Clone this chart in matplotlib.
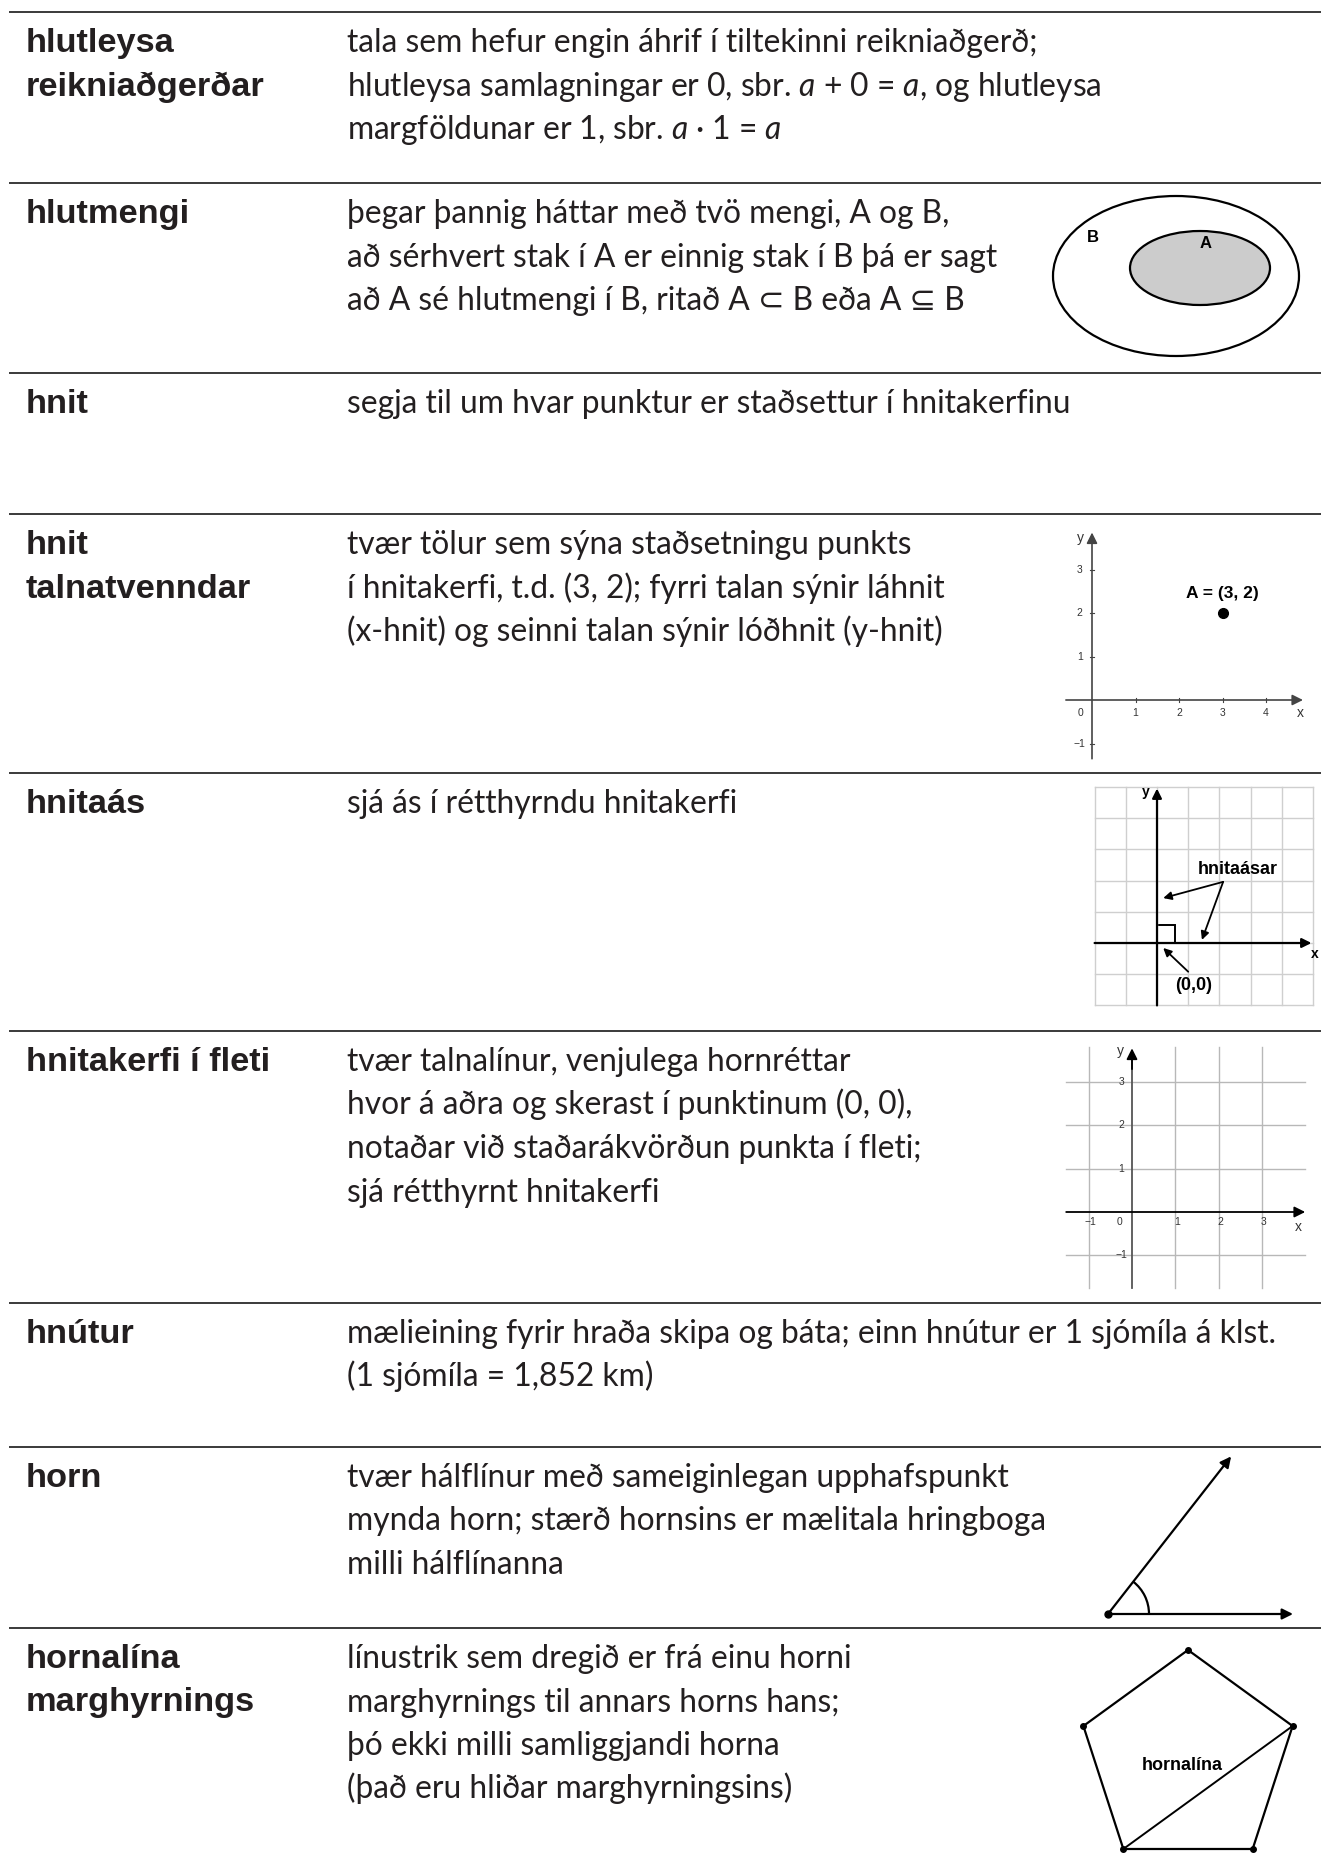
import numpy as np
import matplotlib
matplotlib.use('Agg')
import matplotlib.pyplot as plt
from matplotlib.patches import Ellipse, Arc, Rectangle, Polygon

plt.rcParams['mathtext.fontset'] = 'custom'
plt.rcParams['mathtext.rm'] = 'Lato'
plt.rcParams['mathtext.it'] = 'Lato:italic'

W, H, DPI = 1321, 1859, 100

# ---- glossary text ----
terms = [
    'hlutleysa\nreikniaðgerðar',
    'hlutmengi',
    'hnit',
    'hnit\ntalnatvenndar',
    'hnitaás',
    'hnitakerfi í fleti',
    'hnútur',
    'horn',
    'hornalína\nmarghyrnings',
]
definitions = [
    ['tala sem hefur engin áhrif í tiltekinni reikniaðgerð;',
     'hlutleysa samlagningar er 0, sbr. $a$ + 0 = $a$, og hlutleysa',
     'margföldunar er 1, sbr. $a$ · 1 = $a$'],
    ['þegar þannig háttar með tvö mengi, A og B,',
     'að sérhvert stak í A er einnig stak í B þá er sagt',
     'að A sé hlutmengi í B, ritað A ⊂ B eða A ⊆ B'],
    ['segja til um hvar punktur er staðsettur í hnitakerfinu'],
    ['tvær tölur sem sýna staðsetningu punkts',
     'í hnitakerfi, t.d. (3, 2); fyrri talan sýnir láhnit',
     '(x-hnit) og seinni talan sýnir lóðhnit (y-hnit)'],
    ['sjá ás í rétthyrndu hnitakerfi'],
    ['tvær talnalínur, venjulega hornréttar',
     'hvor á aðra og skerast í punktinum (0, 0),',
     'notaðar við staðarákvörðun punkta í fleti;',
     'sjá rétthyrnt hnitakerfi'],
    ['mælieining fyrir hraða skipa og báta; einn hnútur er 1 sjómíla á klst.',
     '(1 sjómíla = 1,852 km)'],
    ['tvær hálflínur með sameiginlegan upphafspunkt',
     'mynda horn; stærð hornsins er mælitala hringboga',
     'milli hálflínanna'],
    ['línustrik sem dregið er frá einu horni',
     'marghyrnings til annars horns hans;',
     'þó ekki milli samliggjandi horna',
     '(það eru hliðar marghyrningsins)'],
]

# ---- diagram data ----
point_a = (3, 2)
ticks_a_x = [1, 2, 3, 4]
ticks_a_y = [-1, 1, 2, 3]
grid_b = [-2, -1, 0, 1, 2, 3, 4, 5]
grid_c_x = [-1, 1, 2, 3]
grid_c_y = [-1, 1, 2, 3]
angle_deg = 52
pentagon_deg = [90, 18, -54, -126, 162]

# ---- layout ----
rule_y = [12, 183, 373, 514, 773, 1031, 1303, 1447, 1628]
term_x, def_x = 26, 347
first_base, line_gap = 40, 43.5
ink = '#231f20'
term_font = ['Liberation Sans', 'DejaVu Sans']
def_font = ['Lato', 'DejaVu Sans']

fig = plt.figure(figsize=(W / DPI, H / DPI), dpi=DPI)
ax = fig.add_axes([0, 0, 1, 1])
ax.set_xlim(0, W)
ax.set_ylim(H, 0)
ax.axis('off')
rend = fig.canvas.get_renderer()


def fit_size(s, family, weight, target):
    t = fig.text(0, 0, s, family=family, weight=weight, fontsize=20)
    w = t.get_window_extent(rend).width
    t.remove()
    return 20 * target / w


term_size = fit_size('hnitakerfi í fleti', term_font, 'bold', 244)
def_size = fit_size(definitions[6][0], def_font, 'normal', 932)

ax.hlines(rule_y, 9, W, color='#3a3a3a', lw=1.4)

for i, (term, lines) in enumerate(zip(terms, definitions)):
    y0 = rule_y[i] + first_base
    for k, part in enumerate(term.split('\n')):
        ax.text(term_x, y0 + k * line_gap, part, family=term_font, weight='bold',
                fontsize=term_size, color=ink, va='baseline')
    for k, line in enumerate(lines):
        ax.text(def_x, y0 + k * line_gap, line, family=def_font,
                fontsize=def_size, color=ink, va='baseline')


def unit_axes(box, origin, unit):
    x0, y0, x1, y1 = box
    a = fig.add_axes([x0 / W, 1 - y1 / H, (x1 - x0) / W, (y1 - y0) / H])
    a.set_xlim((x0 - origin[0]) / unit, (x1 - origin[0]) / unit)
    a.set_ylim((origin[1] - y1) / unit, (origin[1] - y0) / unit)
    a.axis('off')
    return a


def arrow(a, start, end, color='k', lw=1.4, ms=14):
    a.annotate('', xy=end, xytext=start, annotation_clip=False,
               arrowprops=dict(arrowstyle='-|>', color=color, lw=lw,
                               mutation_scale=ms, shrinkA=0, shrinkB=0))


lab = dict(family=term_font, weight='bold', color='k')
small = dict(family=term_font, fontsize=7.5, color='#333333', ha='center', va='center')

# hlutmengi: Venn
av = unit_axes((1040, 188, 1312, 364), (1176, 276), 1)
av.add_patch(Ellipse((0, 0), 246, 160, fill=False, lw=1.6, ec='k'))
av.add_patch(Ellipse((24, 8), 140, 74, fc='#cccccc', lw=1.6, ec='k'))
av.text(-83, 39, 'B', fontsize=12, ha='center', va='center', **lab)
av.text(30, 32, 'A', fontsize=12, ha='center', va='center', **lab)

# hnit talnatvenndar
a2 = unit_axes((1050, 525, 1321, 765), (1092, 700), 43.5)
arrow(a2, (-0.6, 0), (4.85, 0), color='#444444', lw=1.2, ms=16)
arrow(a2, (0, -1.35), (0, 3.85), color='#444444', lw=1.2, ms=16)
for v in ticks_a_x:
    a2.plot([v, v], [-0.05, 0.05], color='#444444', lw=0.8)
    a2.text(v, -0.3, str(v), **small)
for v in ticks_a_y:
    a2.plot([-0.05, 0.05], [v, v], color='#444444', lw=0.8)
    a2.text(-0.28, v, str(v).replace('-', '−'), **small)
a2.text(-0.26, -0.3, '0', **small)
a2.text(4.78, -0.3, 'x', family=term_font, fontsize=10, color='#333333', ha='center', va='center')
a2.text(-0.27, 3.72, 'y', family=term_font, fontsize=10, color='#333333', ha='center', va='center')
a2.plot(*point_a, 'o', color='k', ms=7)
a2.text(point_a[0], point_a[1] + 0.44, 'A = (3, 2)', fontsize=12.5, ha='center', va='center', **lab)

# hnitaás
a3 = unit_axes((1088, 780, 1321, 1012), (1157, 943), 31.2)
for v in grid_b:
    a3.plot([v, v], [-2, 5], color='#cfcfcf', lw=1)
    a3.plot([-2, 5], [v, v], color='#cfcfcf', lw=1)
arrow(a3, (-2, 0), (4.95, 0), lw=1.6, ms=14)
arrow(a3, (0, -2), (0, 4.95), lw=1.6, ms=14)
a3.add_patch(Rectangle((0, 0), 0.58, 0.58, fill=False, lw=1.4, ec='k'))
a3.text(5.05, -0.35, 'x', fontsize=10, ha='center', va='center', **lab)
a3.text(-0.35, 4.85, 'y', fontsize=10, ha='center', va='center', **lab)
a3.text(2.6, 2.36, 'hnitaásar', fontsize=13, ha='center', va='center', **lab)
arrow(a3, (2.12, 1.96), (0.2, 1.44), lw=1.3, ms=12)
arrow(a3, (2.12, 1.96), (1.44, 0.1), lw=1.3, ms=12)
a3.text(1.16, -1.36, '(0,0)', fontsize=13, ha='center', va='center', **lab)
arrow(a3, (1.0, -0.92), (0.2, -0.16), lw=1.3, ms=12)

# hnitakerfi í fleti
a4 = unit_axes((1060, 1035, 1321, 1300), (1132, 1212), 43.3)
for v in grid_c_x:
    a4.plot([v, v], [-1.75, 3.82], color='#b8b8b8', lw=1)
for v in grid_c_y:
    a4.plot([-1.52, 4.0], [v, v], color='#b8b8b8', lw=1)
a4.plot([0, 0], [-1.75, 3.5], color='#555555', lw=1.3)
arrow(a4, (0, 3.3), (0, 3.78), lw=1.3, ms=16)
arrow(a4, (-1.52, 0), (4.0, 0), lw=1.3, ms=16)
for v in grid_c_x:
    a4.text(v + 0.04, -0.24, str(v).replace('-', '−'), **small)
for v in grid_c_y:
    a4.text(-0.24, v, str(v).replace('-', '−'), **small)
a4.text(-0.3, -0.24, '0', **small)
a4.text(3.85, -0.35, 'x', family=term_font, fontsize=10, color='#333333', ha='center', va='center')
a4.text(-0.26, 3.72, 'y', family=term_font, fontsize=10, color='#333333', ha='center', va='center')

# horn
a5 = unit_axes((1090, 1450, 1321, 1626), (1108, 1614), 1)
th = np.deg2rad(angle_deg)
arrow(a5, (0, 0), (185, 0), lw=1.6, ms=16)
arrow(a5, (0, 0), (200 * np.cos(th), 200 * np.sin(th)), lw=1.6, ms=16)
a5.add_patch(Arc((0, 0), 82, 82, theta1=0, theta2=angle_deg, lw=1.6, color='k'))
a5.plot(0, 0, 'o', color='k', ms=5)

# hornalína marghyrnings
a6 = unit_axes((1070, 1636, 1321, 1859), (1188, 1760), 1)
ang = np.deg2rad(pentagon_deg)
px, py = 110 * np.cos(ang), 110 * np.sin(ang)
a6.add_patch(Polygon(np.column_stack([px, py]), closed=True, fill=False, lw=1.6, ec='k'))
a6.plot([px[3], px[1]], [py[3], py[1]], color='k', lw=1.4)
a6.plot(px, py, 'o', color='k', ms=4)
a6.text(-6, -6, 'hornalína', fontsize=13, ha='center', va='center', **lab)

fig.savefig('out.png', dpi=DPI)
